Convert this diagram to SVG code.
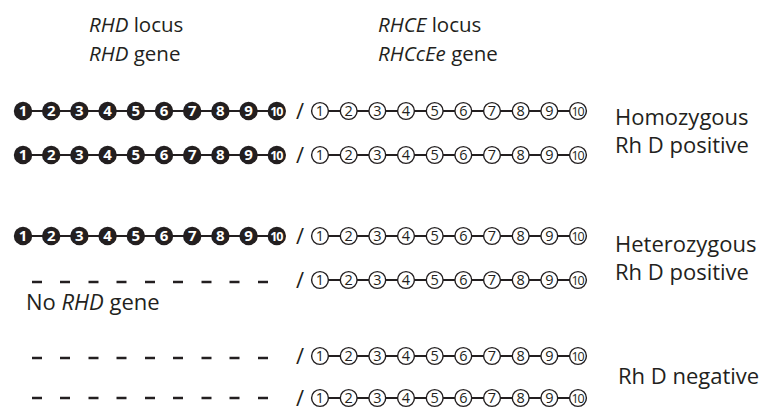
<svg xmlns="http://www.w3.org/2000/svg" width="766" height="413" viewBox="0 0 766 413">
<style>
.lbl{font-family:"Open Sans","Noto Sans",sans-serif;font-size:22px;fill:#231f20}
.hd{font-size:20.5px}
.it{font-style:italic}
.bc{fill:#231f20}
.bt{font-family:"Open Sans","Noto Sans",sans-serif;font-size:15px;font-weight:bold;fill:#fff;text-anchor:middle}
.oc{fill:#fff;stroke:#231f20;stroke-width:1.4}
.ot{font-family:"Open Sans","Noto Sans",sans-serif;font-size:14.5px;fill:#231f20;text-anchor:middle}
.ten{font-size:12.5px;letter-spacing:-1.3px}
.ln{stroke:#231f20;stroke-width:2}
.dash{stroke:#231f20;stroke-width:2.5}
.sl{font-family:"Open Sans","Noto Sans",sans-serif;font-size:22px;fill:#231f20;text-anchor:middle}
</style>
<g id="header">
<text class="lbl hd" x="89" y="32"><tspan class="it">RHD</tspan> locus</text>
<text class="lbl hd" x="89" y="61"><tspan class="it">RHD</tspan> gene</text>
<text class="lbl hd" x="378" y="32"><tspan class="it">RHCE</tspan> locus</text>
<text class="lbl hd" x="378" y="61"><tspan class="it">RHCcEe</tspan> gene</text>
</g>
<g id="connectors">
<line class="ln" x1="23" y1="111" x2="277" y2="111"/>
<line class="ln" x1="320" y1="111" x2="578" y2="111"/>
<line class="ln" x1="23" y1="155" x2="277" y2="155"/>
<line class="ln" x1="320" y1="155" x2="578" y2="155"/>
<line class="ln" x1="23" y1="236" x2="277" y2="236"/>
<line class="ln" x1="320" y1="236" x2="578" y2="236"/>
<line class="ln" x1="320" y1="280" x2="578" y2="280"/>
<line class="ln" x1="320" y1="356" x2="578" y2="356"/>
<line class="ln" x1="320" y1="398" x2="578" y2="398"/>
</g>
<g id="rhd-row1">
<circle class="bc" cx="23" cy="111" r="9.2"/><text class="bt" x="23" y="116.3">1</text>
<circle class="bc" cx="51.2" cy="111" r="9.2"/><text class="bt" x="51.2" y="116.3">2</text>
<circle class="bc" cx="79.4" cy="111" r="9.2"/><text class="bt" x="79.4" y="116.3">3</text>
<circle class="bc" cx="107.6" cy="111" r="9.2"/><text class="bt" x="107.6" y="116.3">4</text>
<circle class="bc" cx="135.8" cy="111" r="9.2"/><text class="bt" x="135.8" y="116.3">5</text>
<circle class="bc" cx="164" cy="111" r="9.2"/><text class="bt" x="164" y="116.3">6</text>
<circle class="bc" cx="192.2" cy="111" r="9.2"/><text class="bt" x="192.2" y="116.3">7</text>
<circle class="bc" cx="220.4" cy="111" r="9.2"/><text class="bt" x="220.4" y="116.3">8</text>
<circle class="bc" cx="248.6" cy="111" r="9.2"/><text class="bt" x="248.6" y="116.3">9</text>
<circle class="bc" cx="276.8" cy="111" r="9.2"/><text class="bt ten" x="276.2" y="115.6">10</text>
</g>
<text class="sl" x="300" y="119">/</text>
<g id="rhce-row1">
<circle class="oc" cx="320" cy="111" r="8.4"/><text class="ot" x="320" y="116.1">1</text>
<circle class="oc" cx="348.7" cy="111" r="8.4"/><text class="ot" x="348.7" y="116.1">2</text>
<circle class="oc" cx="377.3" cy="111" r="8.4"/><text class="ot" x="377.3" y="116.1">3</text>
<circle class="oc" cx="406" cy="111" r="8.4"/><text class="ot" x="406" y="116.1">4</text>
<circle class="oc" cx="434.7" cy="111" r="8.4"/><text class="ot" x="434.7" y="116.1">5</text>
<circle class="oc" cx="463.3" cy="111" r="8.4"/><text class="ot" x="463.3" y="116.1">6</text>
<circle class="oc" cx="492" cy="111" r="8.4"/><text class="ot" x="492" y="116.1">7</text>
<circle class="oc" cx="520.7" cy="111" r="8.4"/><text class="ot" x="520.7" y="116.1">8</text>
<circle class="oc" cx="549.3" cy="111" r="8.4"/><text class="ot" x="549.3" y="116.1">9</text>
<circle class="oc" cx="578" cy="111" r="8.4"/><text class="ot ten" x="577.4" y="115.5">10</text>
</g>
<g id="rhd-row2">
<circle class="bc" cx="23" cy="155" r="9.2"/><text class="bt" x="23" y="160.3">1</text>
<circle class="bc" cx="51.2" cy="155" r="9.2"/><text class="bt" x="51.2" y="160.3">2</text>
<circle class="bc" cx="79.4" cy="155" r="9.2"/><text class="bt" x="79.4" y="160.3">3</text>
<circle class="bc" cx="107.6" cy="155" r="9.2"/><text class="bt" x="107.6" y="160.3">4</text>
<circle class="bc" cx="135.8" cy="155" r="9.2"/><text class="bt" x="135.8" y="160.3">5</text>
<circle class="bc" cx="164" cy="155" r="9.2"/><text class="bt" x="164" y="160.3">6</text>
<circle class="bc" cx="192.2" cy="155" r="9.2"/><text class="bt" x="192.2" y="160.3">7</text>
<circle class="bc" cx="220.4" cy="155" r="9.2"/><text class="bt" x="220.4" y="160.3">8</text>
<circle class="bc" cx="248.6" cy="155" r="9.2"/><text class="bt" x="248.6" y="160.3">9</text>
<circle class="bc" cx="276.8" cy="155" r="9.2"/><text class="bt ten" x="276.2" y="159.6">10</text>
</g>
<text class="sl" x="300" y="163">/</text>
<g id="rhce-row2">
<circle class="oc" cx="320" cy="155" r="8.4"/><text class="ot" x="320" y="160.1">1</text>
<circle class="oc" cx="348.7" cy="155" r="8.4"/><text class="ot" x="348.7" y="160.1">2</text>
<circle class="oc" cx="377.3" cy="155" r="8.4"/><text class="ot" x="377.3" y="160.1">3</text>
<circle class="oc" cx="406" cy="155" r="8.4"/><text class="ot" x="406" y="160.1">4</text>
<circle class="oc" cx="434.7" cy="155" r="8.4"/><text class="ot" x="434.7" y="160.1">5</text>
<circle class="oc" cx="463.3" cy="155" r="8.4"/><text class="ot" x="463.3" y="160.1">6</text>
<circle class="oc" cx="492" cy="155" r="8.4"/><text class="ot" x="492" y="160.1">7</text>
<circle class="oc" cx="520.7" cy="155" r="8.4"/><text class="ot" x="520.7" y="160.1">8</text>
<circle class="oc" cx="549.3" cy="155" r="8.4"/><text class="ot" x="549.3" y="160.1">9</text>
<circle class="oc" cx="578" cy="155" r="8.4"/><text class="ot ten" x="577.4" y="159.5">10</text>
</g>
<g id="label-homo">
<text class="lbl" x="615" y="125">Homozygous</text>
<text class="lbl" x="615" y="153">Rh D positive</text>
</g>
<g id="rhd-row3">
<circle class="bc" cx="23" cy="236" r="9.2"/><text class="bt" x="23" y="241.3">1</text>
<circle class="bc" cx="51.2" cy="236" r="9.2"/><text class="bt" x="51.2" y="241.3">2</text>
<circle class="bc" cx="79.4" cy="236" r="9.2"/><text class="bt" x="79.4" y="241.3">3</text>
<circle class="bc" cx="107.6" cy="236" r="9.2"/><text class="bt" x="107.6" y="241.3">4</text>
<circle class="bc" cx="135.8" cy="236" r="9.2"/><text class="bt" x="135.8" y="241.3">5</text>
<circle class="bc" cx="164" cy="236" r="9.2"/><text class="bt" x="164" y="241.3">6</text>
<circle class="bc" cx="192.2" cy="236" r="9.2"/><text class="bt" x="192.2" y="241.3">7</text>
<circle class="bc" cx="220.4" cy="236" r="9.2"/><text class="bt" x="220.4" y="241.3">8</text>
<circle class="bc" cx="248.6" cy="236" r="9.2"/><text class="bt" x="248.6" y="241.3">9</text>
<circle class="bc" cx="276.8" cy="236" r="9.2"/><text class="bt ten" x="276.2" y="240.6">10</text>
</g>
<text class="sl" x="300" y="244">/</text>
<g id="rhce-row3">
<circle class="oc" cx="320" cy="236" r="8.4"/><text class="ot" x="320" y="241.1">1</text>
<circle class="oc" cx="348.7" cy="236" r="8.4"/><text class="ot" x="348.7" y="241.1">2</text>
<circle class="oc" cx="377.3" cy="236" r="8.4"/><text class="ot" x="377.3" y="241.1">3</text>
<circle class="oc" cx="406" cy="236" r="8.4"/><text class="ot" x="406" y="241.1">4</text>
<circle class="oc" cx="434.7" cy="236" r="8.4"/><text class="ot" x="434.7" y="241.1">5</text>
<circle class="oc" cx="463.3" cy="236" r="8.4"/><text class="ot" x="463.3" y="241.1">6</text>
<circle class="oc" cx="492" cy="236" r="8.4"/><text class="ot" x="492" y="241.1">7</text>
<circle class="oc" cx="520.7" cy="236" r="8.4"/><text class="ot" x="520.7" y="241.1">8</text>
<circle class="oc" cx="549.3" cy="236" r="8.4"/><text class="ot" x="549.3" y="241.1">9</text>
<circle class="oc" cx="578" cy="236" r="8.4"/><text class="ot ten" x="577.4" y="240.5">10</text>
</g>
<g id="rhd-absent-row4">
<line class="dash" x1="32" y1="282" x2="42" y2="282"/>
<line class="dash" x1="60" y1="282" x2="70" y2="282"/>
<line class="dash" x1="88.5" y1="282" x2="98.5" y2="282"/>
<line class="dash" x1="116.5" y1="282" x2="126.5" y2="282"/>
<line class="dash" x1="145" y1="282" x2="155" y2="282"/>
<line class="dash" x1="173" y1="282" x2="183" y2="282"/>
<line class="dash" x1="201.5" y1="282" x2="211.5" y2="282"/>
<line class="dash" x1="229.5" y1="282" x2="239.5" y2="282"/>
<line class="dash" x1="258" y1="282" x2="268" y2="282"/>
</g>
<text class="sl" x="300" y="288">/</text>
<g id="rhce-row4">
<circle class="oc" cx="320" cy="280" r="8.4"/><text class="ot" x="320" y="285.1">1</text>
<circle class="oc" cx="348.7" cy="280" r="8.4"/><text class="ot" x="348.7" y="285.1">2</text>
<circle class="oc" cx="377.3" cy="280" r="8.4"/><text class="ot" x="377.3" y="285.1">3</text>
<circle class="oc" cx="406" cy="280" r="8.4"/><text class="ot" x="406" y="285.1">4</text>
<circle class="oc" cx="434.7" cy="280" r="8.4"/><text class="ot" x="434.7" y="285.1">5</text>
<circle class="oc" cx="463.3" cy="280" r="8.4"/><text class="ot" x="463.3" y="285.1">6</text>
<circle class="oc" cx="492" cy="280" r="8.4"/><text class="ot" x="492" y="285.1">7</text>
<circle class="oc" cx="520.7" cy="280" r="8.4"/><text class="ot" x="520.7" y="285.1">8</text>
<circle class="oc" cx="549.3" cy="280" r="8.4"/><text class="ot" x="549.3" y="285.1">9</text>
<circle class="oc" cx="578" cy="280" r="8.4"/><text class="ot ten" x="577.4" y="284.5">10</text>
</g>
<text class="lbl" x="26" y="310">No <tspan class="it">RHD</tspan> gene</text>
<g id="label-hetero">
<text class="lbl" x="615" y="252">Heterozygous</text>
<text class="lbl" x="615" y="280">Rh D positive</text>
</g>
<g id="rhd-absent-row5">
<line class="dash" x1="32" y1="358" x2="42" y2="358"/>
<line class="dash" x1="60" y1="358" x2="70" y2="358"/>
<line class="dash" x1="88.5" y1="358" x2="98.5" y2="358"/>
<line class="dash" x1="116.5" y1="358" x2="126.5" y2="358"/>
<line class="dash" x1="145" y1="358" x2="155" y2="358"/>
<line class="dash" x1="173" y1="358" x2="183" y2="358"/>
<line class="dash" x1="201.5" y1="358" x2="211.5" y2="358"/>
<line class="dash" x1="229.5" y1="358" x2="239.5" y2="358"/>
<line class="dash" x1="258" y1="358" x2="268" y2="358"/>
</g>
<text class="sl" x="300" y="364">/</text>
<g id="rhce-row5">
<circle class="oc" cx="320" cy="356" r="8.4"/><text class="ot" x="320" y="361.1">1</text>
<circle class="oc" cx="348.7" cy="356" r="8.4"/><text class="ot" x="348.7" y="361.1">2</text>
<circle class="oc" cx="377.3" cy="356" r="8.4"/><text class="ot" x="377.3" y="361.1">3</text>
<circle class="oc" cx="406" cy="356" r="8.4"/><text class="ot" x="406" y="361.1">4</text>
<circle class="oc" cx="434.7" cy="356" r="8.4"/><text class="ot" x="434.7" y="361.1">5</text>
<circle class="oc" cx="463.3" cy="356" r="8.4"/><text class="ot" x="463.3" y="361.1">6</text>
<circle class="oc" cx="492" cy="356" r="8.4"/><text class="ot" x="492" y="361.1">7</text>
<circle class="oc" cx="520.7" cy="356" r="8.4"/><text class="ot" x="520.7" y="361.1">8</text>
<circle class="oc" cx="549.3" cy="356" r="8.4"/><text class="ot" x="549.3" y="361.1">9</text>
<circle class="oc" cx="578" cy="356" r="8.4"/><text class="ot ten" x="577.4" y="360.5">10</text>
</g>
<g id="rhd-absent-row6">
<line class="dash" x1="32" y1="398" x2="42" y2="398"/>
<line class="dash" x1="60" y1="398" x2="70" y2="398"/>
<line class="dash" x1="88.5" y1="398" x2="98.5" y2="398"/>
<line class="dash" x1="116.5" y1="398" x2="126.5" y2="398"/>
<line class="dash" x1="145" y1="398" x2="155" y2="398"/>
<line class="dash" x1="173" y1="398" x2="183" y2="398"/>
<line class="dash" x1="201.5" y1="398" x2="211.5" y2="398"/>
<line class="dash" x1="229.5" y1="398" x2="239.5" y2="398"/>
<line class="dash" x1="258" y1="398" x2="268" y2="398"/>
</g>
<text class="sl" x="300" y="406">/</text>
<g id="rhce-row6">
<circle class="oc" cx="320" cy="398" r="8.4"/><text class="ot" x="320" y="403.1">1</text>
<circle class="oc" cx="348.7" cy="398" r="8.4"/><text class="ot" x="348.7" y="403.1">2</text>
<circle class="oc" cx="377.3" cy="398" r="8.4"/><text class="ot" x="377.3" y="403.1">3</text>
<circle class="oc" cx="406" cy="398" r="8.4"/><text class="ot" x="406" y="403.1">4</text>
<circle class="oc" cx="434.7" cy="398" r="8.4"/><text class="ot" x="434.7" y="403.1">5</text>
<circle class="oc" cx="463.3" cy="398" r="8.4"/><text class="ot" x="463.3" y="403.1">6</text>
<circle class="oc" cx="492" cy="398" r="8.4"/><text class="ot" x="492" y="403.1">7</text>
<circle class="oc" cx="520.7" cy="398" r="8.4"/><text class="ot" x="520.7" y="403.1">8</text>
<circle class="oc" cx="549.3" cy="398" r="8.4"/><text class="ot" x="549.3" y="403.1">9</text>
<circle class="oc" cx="578" cy="398" r="8.4"/><text class="ot ten" x="577.4" y="402.5">10</text>
</g>
<g id="label-neg">
<text class="lbl" x="618" y="384">Rh D negative</text>
</g>
</svg>
